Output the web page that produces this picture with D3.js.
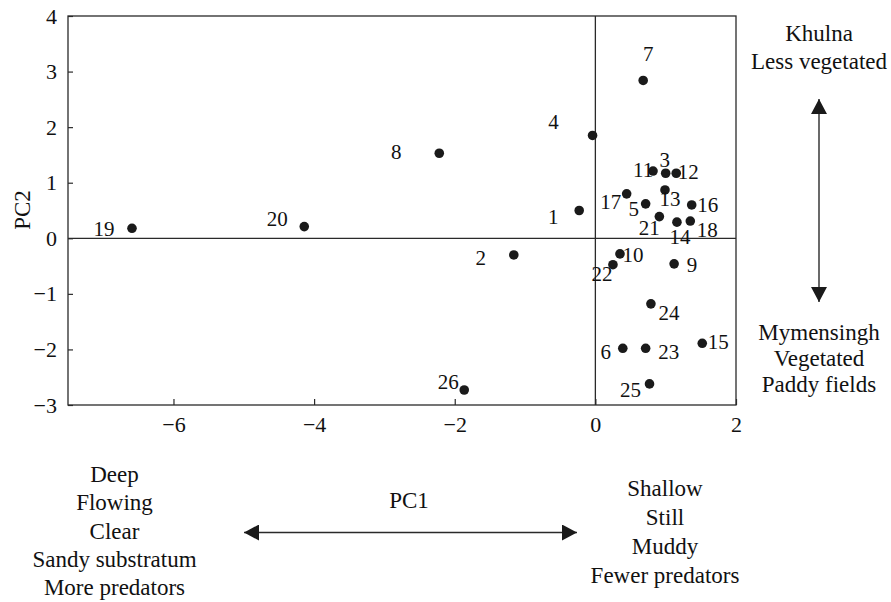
<!DOCTYPE html>
<html>
<head>
<meta charset="utf-8">
<script src="https://cdn.jsdelivr.net/npm/d3@7"></script>
<style>
  body { margin: 0; background: #fff; }
  svg text { font-family: "Liberation Serif", serif; fill: #111; }
</style>
</head>
<body>
<div id="chart"></div>
<script>
// site numbers and their PCA scores
var sites = [1, 2, 3, 4, 5, 6, 7, 8, 9, 10, 11, 12, 13, 14, 15, 16, 17, 18, 19, 20, 21, 22, 23, 24, 25, 26];
var pc1 = [-0.23, -1.16, 1.00, -0.04, 0.715, 0.39, 0.68, -2.22, 1.12, 0.35, 0.82, 1.15, 0.99,
           1.16, 1.52, 1.37, 0.445, 1.35, -6.59, -4.14, 0.91, 0.25, 0.715, 0.79, 0.77, -1.865];
var pc2 = [0.50, -0.30, 1.17, 1.85, 0.62, -1.98, 2.84, 1.53, -0.46, -0.28, 1.21, 1.17, 0.87,
           0.29, -1.89, 0.60, 0.80, 0.31, 0.18, 0.21, 0.39, -0.475, -1.98, -1.18, -2.62, -2.73];
var xTicks = [-6, -4, -2, 0, 2];
var yTicks = [-3, -2, -1, 0, 1, 2, 3, 4];

var leftNotes = ["Deep", "Flowing", "Clear", "Sandy substratum", "More predators"];
var rightNotes = ["Shallow", "Still", "Muddy", "Fewer predators"];
var topNotes = ["Khulna", "Less vegetated"];
var bottomNotes = ["Mymensingh", "Vegetated", "Paddy fields"];

// where each number sits relative to its dot (px)
var labelOffset = {
  1: [-26, 6], 2: [-33, 3], 3: [-1, -14], 4: [-39, -14], 5: [-12, 5], 6: [-17, 3],
  7: [5, -27], 8: [-43, -2], 9: [18, 1], 10: [13, 1], 11: [-10, -1], 12: [12, -2],
  13: [5, 9], 14: [3, 14], 15: [16, -2], 16: [16, 0], 17: [-16, 8], 18: [17, 9],
  19: [-28, 0], 20: [-27, -8], 21: [-10, 11], 22: [-11, 9], 23: [23, 3], 24: [18, 9],
  25: [-19, 6], 26: [-16, -8]
};

var W = 891, H = 602;
var margin = {top: 16, left: 68},
    width = 736 - 68,
    height = 405 - 16;

var svg = d3.select("#chart").append("svg")
    .attr("width", W)
    .attr("height", H);

var defs = svg.append("defs");
defs.append("marker")
    .attr("id", "head")
    .attr("markerUnits", "userSpaceOnUse")
    .attr("viewBox", "0 0 15 16")
    .attr("refX", 15).attr("refY", 8)
    .attr("markerWidth", 15).attr("markerHeight", 16)
    .attr("orient", "auto-start-reverse")
    .append("path")
    .attr("d", "M0,0 L15,8 L0,16 Z")
    .attr("fill", "#1a1a1a");

var g = svg.append("g")
    .attr("transform", "translate(" + margin.left + "," + margin.top + ")");

var x = d3.scaleLinear().domain([-7.5, 2]).range([0, width]);
var y = d3.scaleLinear().domain([-3, 4]).range([height, 0]);

var lineColor = "#2a2a2a";

// box
g.append("rect")
    .attr("width", width)
    .attr("height", height)
    .attr("fill", "none")
    .attr("stroke", lineColor)
    .attr("stroke-width", 1.3);

// zero lines
g.append("line")
    .attr("x1", 0).attr("x2", width)
    .attr("y1", y(0)).attr("y2", y(0))
    .attr("stroke", lineColor).attr("stroke-width", 1.3);
g.append("line")
    .attr("x1", x(0)).attr("x2", x(0))
    .attr("y1", 0).attr("y2", height)
    .attr("stroke", lineColor).attr("stroke-width", 1.3);

var fmt = d3.format("d");
var xAxis = d3.axisBottom(x).tickValues(xTicks).tickFormat(fmt)
    .tickSize(-6).tickSizeOuter(0).tickPadding(11);
var yAxis = d3.axisLeft(y).tickValues(yTicks).tickFormat(fmt)
    .tickSize(-5).tickSizeOuter(0).tickPadding(11);

var gx = g.append("g")
    .attr("transform", "translate(0," + height + ")")
    .call(xAxis);
var gy = g.append("g").call(yAxis);

[gx, gy].forEach(function(a){
    a.select(".domain").remove();
    a.selectAll("line").attr("stroke", lineColor).attr("stroke-width", 1.2);
    a.selectAll("text")
        .style("font-family", "'Liberation Serif', serif")
        .style("font-size", "22px")
        .attr("fill", "#111");
});

// dots
var pts = sites.map(function(s, i){ return {id: s, a: pc1[i], b: pc2[i]}; });

g.selectAll(".dot")
    .data(pts)
    .enter().append("circle")
    .attr("class", "dot")
    .attr("cx", function(d){ return x(d.a); })
    .attr("cy", function(d){ return y(d.b); })
    .attr("r", 4.8)
    .attr("fill", "#1a1a1a");

g.selectAll(".lab")
    .data(pts)
    .enter().append("text")
    .attr("class", "lab")
    .attr("x", function(d){ return x(d.a) + labelOffset[d.id][0]; })
    .attr("y", function(d){ return y(d.b) + labelOffset[d.id][1]; })
    .attr("dy", "0.35em")
    .attr("text-anchor", "middle")
    .style("font-size", "21px")
    .text(function(d){ return d.id; });

// PC2 axis title
svg.append("text")
    .attr("transform", "translate(22,210) rotate(-90)")
    .attr("dy", "0.35em")
    .attr("text-anchor", "middle")
    .style("font-size", "23px")
    .text("PC2");

// PC1 title and arrow
svg.append("text")
    .attr("x", 409).attr("y", 508)
    .attr("text-anchor", "middle")
    .style("font-size", "23px")
    .text("PC1");

svg.append("line")
    .attr("x1", 244).attr("x2", 577)
    .attr("y1", 532.5).attr("y2", 532.5)
    .attr("stroke", lineColor).attr("stroke-width", 1.4)
    .attr("marker-start", "url(#head)")
    .attr("marker-end", "url(#head)");

// vertical arrow on the right
svg.append("line")
    .attr("x1", 819).attr("x2", 819)
    .attr("y1", 99).attr("y2", 302)
    .attr("stroke", lineColor).attr("stroke-width", 1.4)
    .attr("marker-start", "url(#head)")
    .attr("marker-end", "url(#head)");

function block(lines, cx, y0, step){
    svg.append("g").selectAll("text")
        .data(lines)
        .enter().append("text")
        .attr("x", cx)
        .attr("y", function(d, i){ return y0 + i * step; })
        .attr("text-anchor", "middle")
        .style("font-size", "23px")
        .text(function(d){ return d; });
}

block(leftNotes, 114.5, 482, 28.3);
block(rightNotes, 665, 496, 28.9);
block(topNotes, 819, 41, 27.6);
block(bottomNotes, 819, 340, 26);
</script>
</body>
</html>
